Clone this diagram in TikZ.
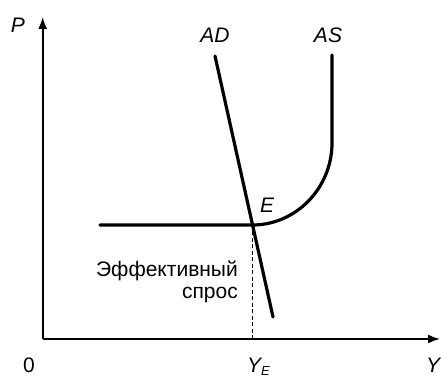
\documentclass[tikz,border=0pt]{standalone}
\usepackage{fontspec}
\setmainfont{Liberation Sans}
\usetikzlibrary{arrows.meta}
\begin{document}
\begin{tikzpicture}[x=1pt,y=1pt,
  axis/.style={line width=1.6pt,-{Latex[length=12pt,width=9pt]}},
  curve/.style={line width=3.2pt,line cap=round},
  guide/.style={line width=1pt,dash pattern=on 4pt off 2.5pt},
  lbl/.style={font=\fontsize{21}{23}\selectfont\itshape,inner sep=0pt},
  txt/.style={font=\fontsize{21}{24}\selectfont,inner sep=0pt}]
\useasboundingbox (0,0) rectangle (441,377);
\coordinate (O) at (42.7,38);
\coordinate (ytop) at (42.7,360);
\coordinate (xend) at (440,38);
\draw[axis] (O) -- (ytop);
\draw[axis] (O) -- (xend);
% AD
\coordinate (ad1) at (215,321);
\coordinate (ad2) at (273,60);
\coordinate (E) at (252.5,152);
\coordinate (YE) at (252.5,38);
\coordinate (as0) at (100,152);
\coordinate (as1) at (332,234);
\coordinate (as2) at (332,322);
\draw[guide] (E) -- (YE);
\draw[curve] (ad1) -- (ad2);
\draw[curve] (as0) -- (E) .. controls (296,152) and (332,189) .. (as1) -- (as2);
% labels
\node[lbl] (P) at (18,352) {P};
\node[lbl] (ADl) at (215,342) {AD};
\node[lbl] (ASl) at (328,342) {AS};
\node[lbl] (El) at (267,172) {E};
\node[txt,anchor=east] (t1) at (238,106) {Эффективный};
\node[txt,anchor=east] (t2) at (238,82) {спрос};
\node[txt] (zero) at (29,12) {0};
\node[lbl,anchor=base west] (YEl) at (247,5) {Y\raisebox{-3pt}{\fontsize{13}{14}\selectfont E}};
\node[lbl] (Yl) at (433,12) {Y};
\end{tikzpicture}
\end{document}
